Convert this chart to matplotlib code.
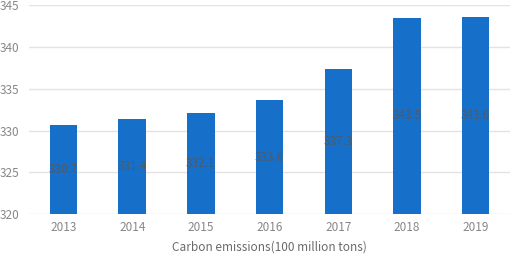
import matplotlib.pyplot as plt
import numpy as np

plt.rcParams['font.family'] = ['Noto Sans CJK SC', 'DejaVu Sans']

years = ['2013', '2014', '2015', '2016', '2017', '2018', '2019']
emissions = [330.7, 331.4, 332.1, 333.6, 337.3, 343.5, 343.6]
base = 320

fig = plt.figure(figsize=(5.12, 2.54), dpi=100)
ax = fig.add_axes([0.057, 0.157, 0.939, 0.823])

x = np.arange(len(years))
heights = [v - base for v in emissions]
ax.bar(x, heights, bottom=base, width=0.4, color='#1670C9', zorder=3)

for xi, v in zip(x, emissions):
  ax.text(xi, (base + v) / 2, f'{v:.1f}', ha='center', va='center',
          fontsize=8.5, color='#505A66', zorder=4)

ax.set_xlim(-0.5, len(years) - 0.5)
ax.set_ylim(320, 345)
ax.set_yticks([320, 325, 330, 335, 340, 345])
ax.set_xticks(x)
ax.set_xticklabels(years)
ax.tick_params(length=0, colors='#878787', labelsize=8.5)
ax.tick_params(axis='y', pad=7)
ax.tick_params(axis='x', pad=5)
ax.grid(axis='y', color='#E3E3E3', linewidth=1, zorder=0)
for s in ax.spines.values():
  s.set_visible(False)
ax.set_xlabel('Carbon emissions(100 million tons)', fontsize=8.5, color='#6a6a6a', labelpad=5)

fig.savefig('out.png', dpi=100)
